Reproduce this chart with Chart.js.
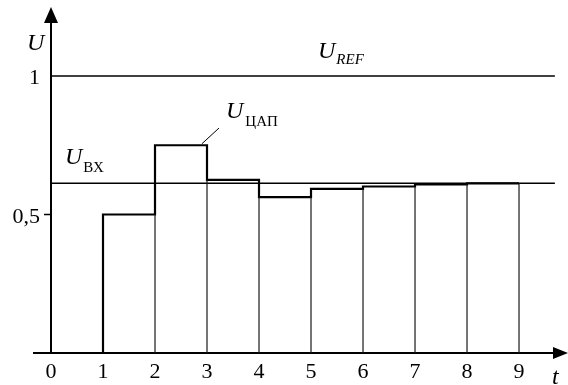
<!DOCTYPE html>
<html>
<head>
<meta charset="utf-8">
<script src="https://cdn.jsdelivr.net/npm/chart.js@4.4.1/dist/chart.umd.min.js"></script>
<style>
  body { margin: 0; background: #fff; }
  canvas { display: block; }
</style>
</head>
<body>
<canvas id="dacChart" width="568" height="385"></canvas>
<script>
// time steps of the conversion and DAC output held on each step
const timeTicks = [0, 1, 2, 3, 4, 5, 6, 7, 8, 9];
const dacLevels = [0, 0.5, 0.75, 0.625, 0.5625, 0.5925, 0.601, 0.609, 0.6125];
const uRef = 1;
const uIn = 0.6125;
const yTickValues = [0.5, 1];
const yTickLabels = ['0,5', '1'];
const lineEnd = 9.69;
const leaderLine = [{x: 2.9, y: 0.755}, {x: 3.23, y: 0.812}];

const serif = '"Liberation Serif", "Times New Roman", Times, serif';

// staircase: each level holds until the next tick
const stepPoints = dacLevels.map((v, i) => ({x: timeTicks[i], y: v}));
stepPoints.push({x: timeTicks[dacLevels.length], y: dacLevels[dacLevels.length - 1]});

// thin verticals under every step from t = 2 on
const gridPoints = [];
for (let k = 2; k <= dacLevels.length; k++) {
    const top = k < dacLevels.length ? Math.min(dacLevels[k - 1], dacLevels[k]) : dacLevels[k - 1];
    gridPoints.push({x: k, y: 0}, {x: k, y: top}, {x: k, y: null});
}

function drawSub(ctx, x, y, main, sub, subItalic, size, subSize, gap, drop) {
    ctx.font = 'italic ' + size + 'px ' + serif;
    ctx.textAlign = 'left';
    ctx.fillText(main, x, y);
    const w = ctx.measureText(main).width;
    ctx.font = (subItalic ? 'italic ' : '') + subSize + 'px ' + serif;
    ctx.fillText(sub, x + w + gap, y + drop);
}

const axesPlugin = {
    id: 'axesPlugin',
    beforeDatasetsDraw(chart) {
        const ctx = chart.ctx;
        const xs = chart.scales.x, ys = chart.scales.y;
        const x0 = xs.getPixelForValue(0), y0 = ys.getPixelForValue(0);
        ctx.save();
        ctx.strokeStyle = '#000';
        ctx.fillStyle = '#000';
        ctx.lineWidth = 2;
        // vertical axis with arrow
        ctx.beginPath();
        ctx.moveTo(x0, y0);
        ctx.lineTo(x0, 20);
        ctx.stroke();
        ctx.beginPath();
        ctx.moveTo(x0, 7);
        ctx.lineTo(x0 - 7, 23);
        ctx.lineTo(x0 + 7, 23);
        ctx.closePath();
        ctx.fill();
        // horizontal axis with arrow
        ctx.beginPath();
        ctx.moveTo(33, y0);
        ctx.lineTo(558, y0);
        ctx.stroke();
        ctx.beginPath();
        ctx.moveTo(568, y0);
        ctx.lineTo(553, y0 - 6);
        ctx.lineTo(553, y0 + 6);
        ctx.closePath();
        ctx.fill();
        // tick at 0,5
        ctx.lineWidth = 1.5;
        ctx.beginPath();
        ctx.moveTo(x0 - 7, ys.getPixelForValue(0.5));
        ctx.lineTo(x0, ys.getPixelForValue(0.5));
        ctx.stroke();
        ctx.restore();
    },
    afterDraw(chart) {
        const ctx = chart.ctx;
        const xs = chart.scales.x, ys = chart.scales.y;
        ctx.save();
        ctx.fillStyle = '#000';
        ctx.textBaseline = 'alphabetic';

        ctx.font = '22px ' + serif;
        ctx.textAlign = 'center';
        timeTicks.forEach(t => ctx.fillText(String(t), xs.getPixelForValue(t), 378));

        ctx.textAlign = 'right';
        yTickValues.forEach((v, i) => ctx.fillText(yTickLabels[i], 40, ys.getPixelForValue(v) + 8));

        ctx.font = 'italic 24px ' + serif;
        ctx.textAlign = 'left';
        ctx.fillText('U', 27, 50);
        ctx.fillText('t', 552, 384);

        drawSub(ctx, 318, ys.getPixelForValue(uRef) - 18, 'U', 'REF', true, 24, 15, 1, 6);
        drawSub(ctx, 65, ys.getPixelForValue(uIn) - 19, 'U', 'ВХ', false, 24, 15, 1, 8);
        drawSub(ctx, 226, 118, 'U', 'ЦАП', false, 24, 15, 2, 8);
        ctx.restore();
    }
};

function build() {
    new Chart(document.getElementById('dacChart'), {
        type: 'line',
        data: {
            datasets: [
                {
                    data: gridPoints,
                    borderColor: '#1a1a1a',
                    borderWidth: 1.2,
                    pointRadius: 0,
                    spanGaps: false,
                    clip: false
                },
                {
                    data: [{x: 0, y: uRef}, {x: lineEnd, y: uRef}],
                    borderColor: '#000',
                    borderWidth: 1.5,
                    pointRadius: 0,
                    clip: false
                },
                {
                    data: [{x: 0, y: uIn}, {x: lineEnd, y: uIn}],
                    borderColor: '#000',
                    borderWidth: 1.5,
                    pointRadius: 0,
                    clip: false
                },
                {
                    data: stepPoints,
                    stepped: 'before',
                    borderColor: '#000',
                    borderWidth: 2.2,
                    pointRadius: 0,
                    clip: false
                },
                {
                    data: leaderLine,
                    borderColor: '#000',
                    borderWidth: 1,
                    pointRadius: 0,
                    clip: false
                }
            ]
        },
        options: {
            responsive: false,
            animation: false,
            layout: {padding: {left: 51, right: 0, top: 8, bottom: 32}},
            scales: {
                x: {type: 'linear', min: 0, max: 9.942, display: false},
                y: {min: 0, max: 1.2455, display: false}
            },
            plugins: {
                legend: {display: false},
                tooltip: {enabled: false}
            }
        },
        plugins: [axesPlugin]
    });
}

// make sure the serif faces are ready before the canvas text is drawn
Promise.all([
    document.fonts.load('22px "Liberation Serif"'),
    document.fonts.load('italic 24px "Liberation Serif"')
]).then(build, build);
</script>
</body>
</html>
